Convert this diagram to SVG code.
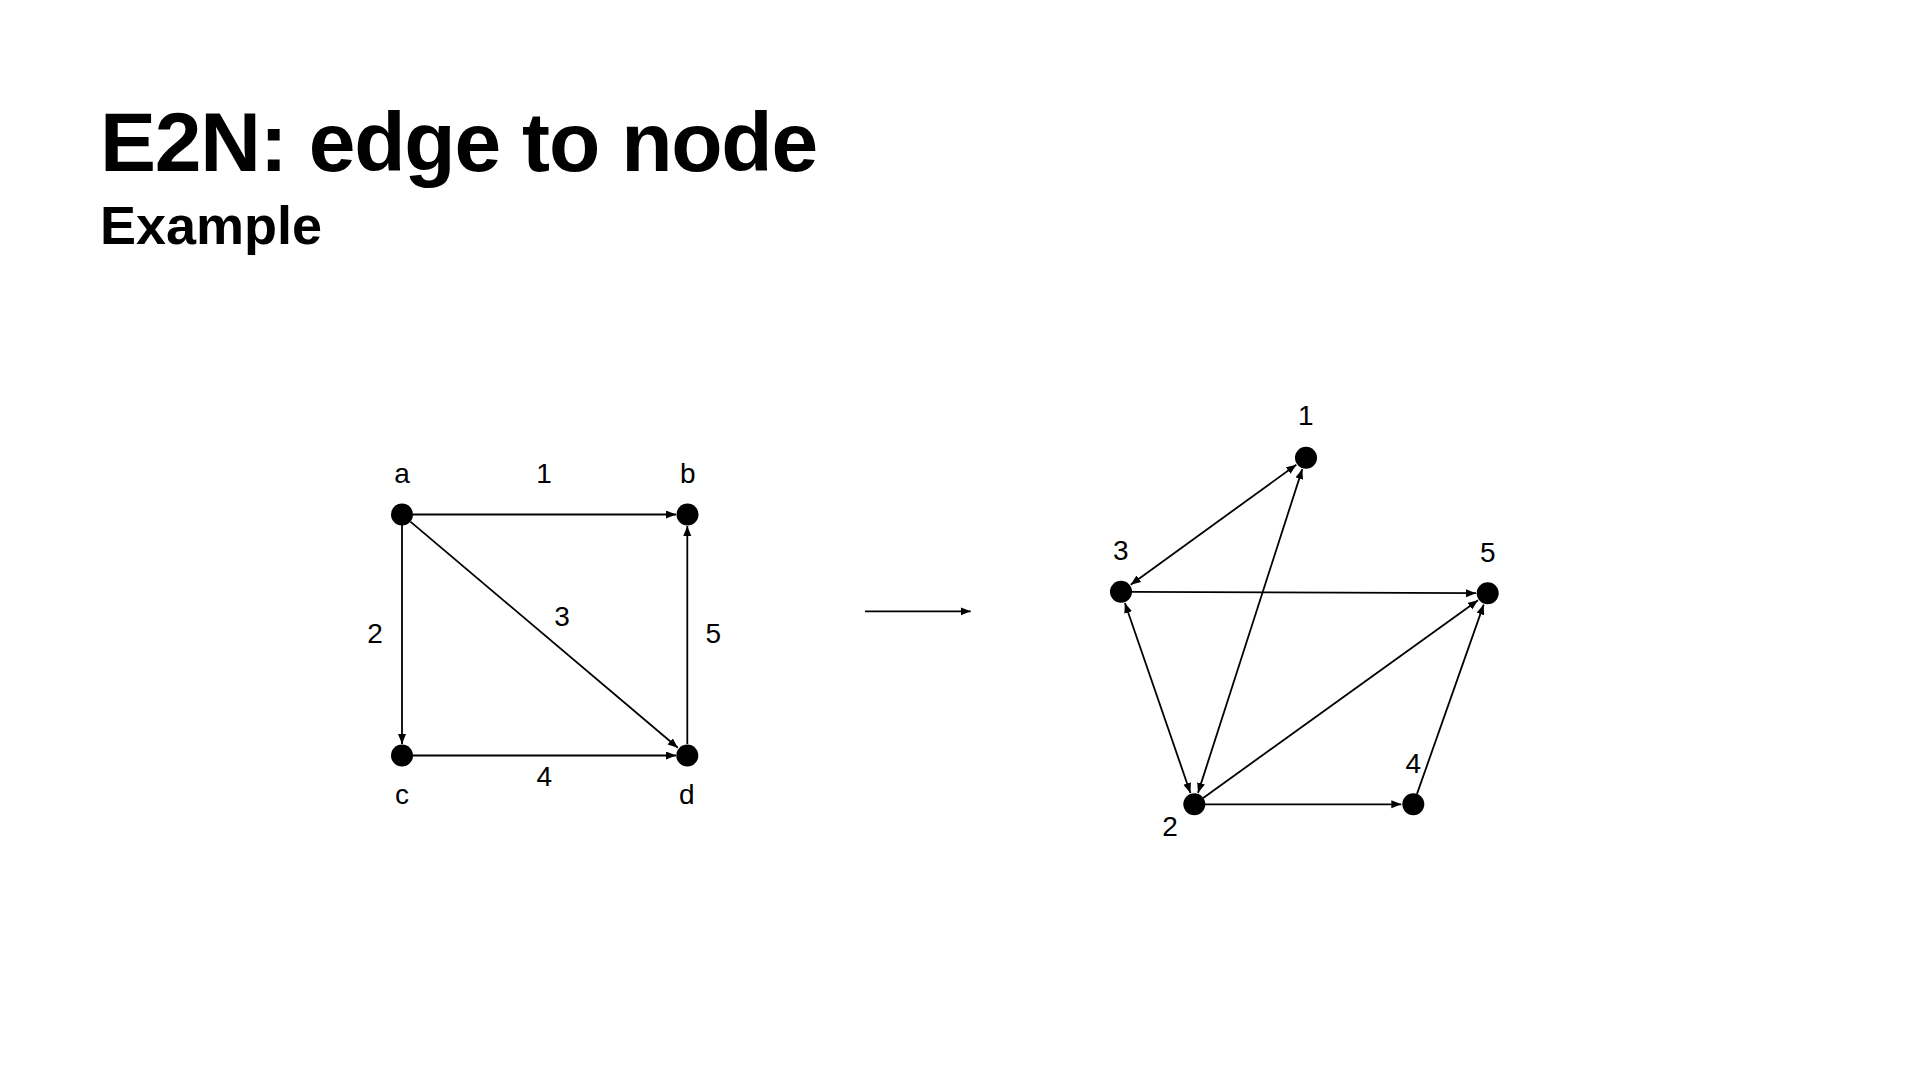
<svg xmlns="http://www.w3.org/2000/svg" width="1920" height="1080" viewBox="0 0 1920 1080">
  <style>
    .title{font-family:"Liberation Sans",Arial,sans-serif;font-weight:bold;fill:#000}
    .lbl{font-family:"Liberation Sans",Arial,sans-serif;font-size:28px;fill:#000;text-anchor:middle}
    .node{fill:#000}
    .edge{stroke:#000;stroke-width:1.8;fill:none;marker-end:url(#ah)}
    .both{marker-start:url(#ah)}
  </style>
  <defs>
    <marker id="ah" markerUnits="userSpaceOnUse" markerWidth="11" markerHeight="9" refX="10" refY="4" orient="auto-start-reverse">
      <path d="M0,0 L10,4 L0,8 z" fill="#000"/>
    </marker>
  </defs>
  <rect width="1920" height="1080" fill="#fff"/>
  <text class="title" x="100" y="171" font-size="84" letter-spacing="-1.2">E2N: edge to node</text>
  <text class="title" x="100" y="244" font-size="54">Example</text>

  <g id="connectors">
    <line class="edge" x1="413" y1="514.5" x2="676" y2="514.5"/>
    <line class="edge" x1="402" y1="525" x2="402" y2="744"/>
    <line class="edge" x1="410.4" y1="521.6" x2="677.8" y2="747.8"/>
    <line class="edge" x1="413" y1="755.5" x2="676" y2="755.5"/>
    <line class="edge" x1="687.3" y1="744" x2="687.3" y2="526"/>
    <line class="edge" x1="865" y1="611.3" x2="970.7" y2="611.3"/>
    <line class="edge both" x1="1130.7" y1="584.7" x2="1296.3" y2="464.7"/>
    <line class="edge" x1="1132" y1="591.8" x2="1476" y2="593.2"/>
    <line class="edge both" x1="1190.4" y1="793" x2="1124.9" y2="603"/>
    <line class="edge both" x1="1198" y1="792.9" x2="1302.3" y2="469.1"/>
    <line class="edge" x1="1203.2" y1="797.9" x2="1478" y2="600.3"/>
    <line class="edge" x1="1205" y1="804.3" x2="1401.3" y2="804.3"/>
    <line class="edge" x1="1417" y1="793.9" x2="1483.7" y2="604.6"/>
  </g>

  <g id="edge-labels">
    <text class="lbl" x="544" y="482.7">1</text>
    <text class="lbl" x="375" y="643">2</text>
    <text class="lbl" x="562" y="625.5">3</text>
    <text class="lbl" x="544.3" y="785.7">4</text>
    <text class="lbl" x="713.3" y="643.3">5</text>
  </g>

  <g id="node-a"><circle class="node" cx="402" cy="514.5" r="11"/><text class="lbl" x="402" y="482.7">a</text></g>
  <g id="node-b"><circle class="node" cx="687.5" cy="514.5" r="11"/><text class="lbl" x="687.7" y="482.5">b</text></g>
  <g id="node-c"><circle class="node" cx="402" cy="755.5" r="11"/><text class="lbl" x="402" y="804">c</text></g>
  <g id="node-d"><circle class="node" cx="687.3" cy="755.5" r="11"/><text class="lbl" x="686.7" y="804">d</text></g>

  <g id="node-1"><circle class="node" cx="1306" cy="457.7" r="11"/><text class="lbl" x="1305.7" y="425">1</text></g>
  <g id="node-2"><circle class="node" cx="1194.3" cy="804.3" r="11"/><text class="lbl" x="1170" y="836">2</text></g>
  <g id="node-3"><circle class="node" cx="1121" cy="591.7" r="11"/><text class="lbl" x="1120.7" y="560">3</text></g>
  <g id="node-4"><circle class="node" cx="1413.3" cy="804.3" r="11"/><text class="lbl" x="1413.3" y="772.7">4</text></g>
  <g id="node-5"><circle class="node" cx="1487.7" cy="593.3" r="11"/><text class="lbl" x="1487.7" y="561.7">5</text></g>
</svg>
